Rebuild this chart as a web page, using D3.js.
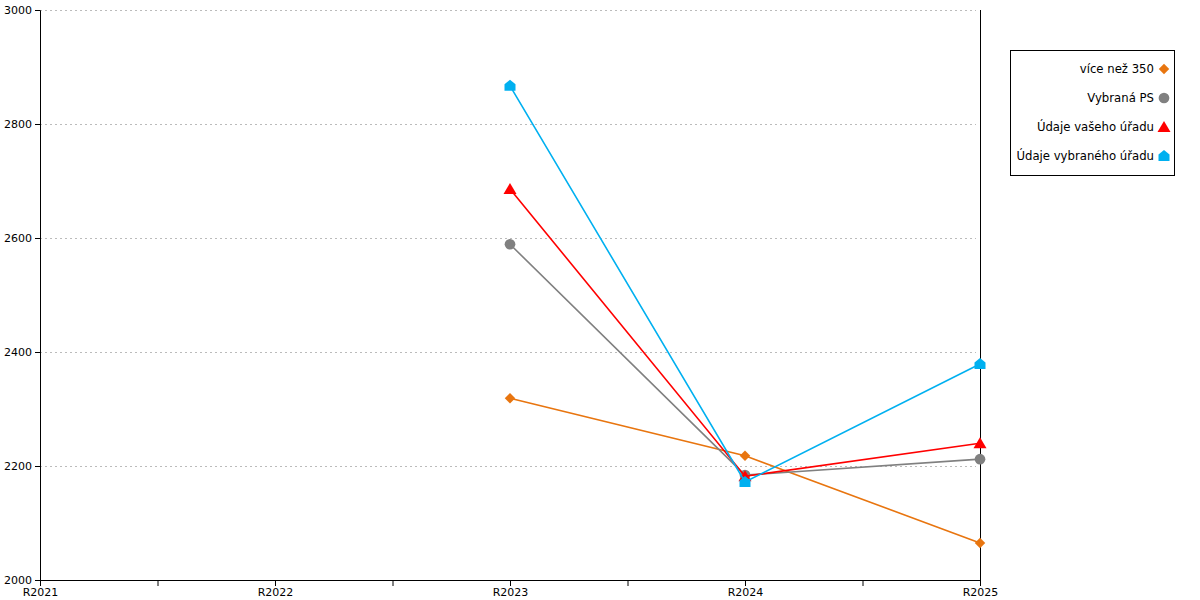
<!DOCTYPE html>
<html>
<head>
<meta charset="utf-8">
<script src="https://cdn.jsdelivr.net/npm/d3@7"></script>
<style>
  body { margin: 0; background: #fff; }
  svg text { font-family: "DejaVu Sans", Verdana, sans-serif; }
</style>
</head>
<body>
<div id="chart"></div>
<script>
// data
const years = ["R2021", "R2022", "R2023", "R2024", "R2025"];
const yTicks = [2000, 2200, 2400, 2600, 2800, 3000];

const seriesNames = ["více než 350", "Vybraná PS", "Údaje vašeho úřadu", "Údaje vybraného úřadu"];
const seriesColors = ["#E8750F", "#808080", "#FF0000", "#00B0F0"];
const seriesShapes = ["diamond", "circle", "triangle", "house"];

const more350 = [null, null, 2319, 2218, 2065];
const selectedPS = [null, null, 2589, 2184, 2212];
const yourOffice = [null, null, 2686, 2182, 2240];
const selectedOffice = [null, null, 2867, 2172, 2379];
const seriesValues = [more350, selectedPS, yourOffice, selectedOffice];

const width = 1200, height = 600;
const margin = { top: 10, right: 220, bottom: 20, left: 40 };

const svg = d3.select("#chart").append("svg")
    .attr("width", width)
    .attr("height", height);

const x = d3.scalePoint()
    .domain(years)
    .range([margin.left, width - margin.right]);

const y = d3.scaleLinear()
    .domain([2000, 3000])
    .range([height - margin.bottom, margin.top]);

// gridlines
svg.append("g")
    .selectAll("line")
    .data(yTicks.slice(1))
    .enter()
    .append("line")
    .attr("x1", margin.left)
    .attr("x2", width - margin.right - 4)
    .attr("y1", d => y(d) + 0.5)
    .attr("y2", d => y(d) + 0.5)
    .style("stroke", "#bbb")
    .style("stroke-dasharray", "2,3");

// y axis
const yAxis = svg.append("g")
    .attr("transform", `translate(${margin.left},0)`)
    .call(d3.axisLeft(y).tickValues(yTicks).tickSize(5).tickPadding(3).tickFormat(d3.format("d")));
yAxis.select(".domain").attr("stroke", "#000");
yAxis.selectAll("text").style("font-size", "11px").attr("fill", "#000");

// x axis with minor ticks at half steps
const step = x.step();
const xAxis = svg.append("g")
    .attr("transform", `translate(0,${height - margin.bottom})`)
    .call(d3.axisBottom(x).tickSize(6).tickSizeOuter(0).tickPadding(2));
xAxis.select(".domain").attr("stroke", "#000");
xAxis.selectAll("text").style("font-size", "11px").attr("fill", "#000");
xAxis.selectAll(".minor")
    .data(years.slice(0, -1))
    .enter()
    .append("line")
    .attr("class", "minor")
    .attr("x1", d => x(d) + step / 2 + 0.5)
    .attr("x2", d => x(d) + step / 2 + 0.5)
    .attr("y1", 0)
    .attr("y2", 6)
    .attr("stroke", "#000");

// right vertical line
svg.append("line")
    .attr("x1", x("R2025") + 0.5).attr("x2", x("R2025") + 0.5)
    .attr("y1", margin.top).attr("y2", height - margin.bottom)
    .style("stroke", "#000");

const symbolFor = (shape) => {
    if (shape === "diamond") return d3.symbol().type(d3.symbolDiamond2).size(70)();
    if (shape === "circle") return d3.symbol().type(d3.symbolCircle).size(90)();
    if (shape === "triangle") return "M0,-6L6.5,5L-6.5,5Z";
    return "M0,-6L5.5,-1.5L5.5,5L-5.5,5L-5.5,-1.5Z";
};

const line = d3.line()
    .defined(d => d.v != null)
    .x(d => x(d.year))
    .y(d => y(d.v));

seriesValues.forEach((vals, i) => {
    const pts = vals.map((v, j) => ({ year: years[j], v }));
    svg.append("path")
        .datum(pts)
        .attr("d", line)
        .style("fill", "none")
        .style("stroke", seriesColors[i])
        .style("stroke-width", 1.6);
    svg.selectAll(".m" + i)
        .data(pts.filter(d => d.v != null))
        .enter()
        .append("path")
        .attr("class", "m" + i)
        .attr("transform", d => `translate(${x(d.year)},${y(d.v)})`)
        .attr("d", symbolFor(seriesShapes[i]))
        .style("fill", seriesColors[i]);
});

// legend
const legend = svg.append("g");
legend.append("rect")
    .attr("x", 1010.5).attr("y", 50.5)
    .attr("width", 164).attr("height", 125)
    .style("fill", "#fff")
    .style("stroke", "#000");

seriesNames.forEach((name, i) => {
    const ly = 69 + i * 29;
    legend.append("text")
        .attr("x", 1154)
        .attr("y", ly)
        .attr("dy", "0.35em")
        .attr("text-anchor", "end")
        .style("font-size", "11.7px")
        .text(name);
    legend.append("path")
        .attr("transform", `translate(1164,${ly})`)
        .attr("d", symbolFor(seriesShapes[i]))
        .style("fill", seriesColors[i]);
});
</script>
</body>
</html>
